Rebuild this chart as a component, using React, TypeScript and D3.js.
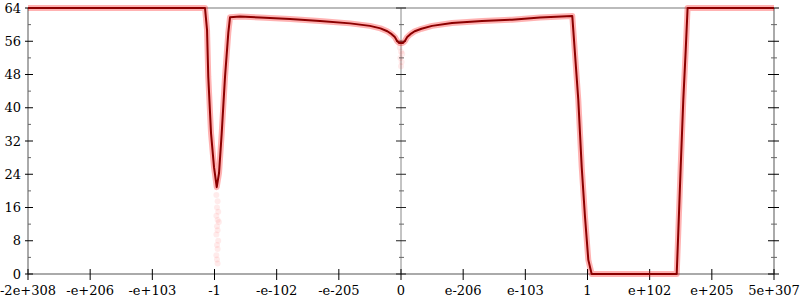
import React from "react";
import * as d3 from "d3";

// x positions are in "tick units" along the ordered float axis (-6 .. 6)
const xTickPos = [-6, -5, -4, -3, -2, -1, 0, 1, 2, 3, 4, 5, 6];
const xTickLabels = ["-2e+308", "-e+206", "-e+103", "-1", "-e-102", "-e-205", "0", "e-206", "e-103", "1", "e+102", "e+205", "5e+307"];
const yTicks = [0, 8, 16, 24, 32, 40, 48, 56, 64];
const yMinorTicks = [4, 12, 20, 28, 36, 44, 52, 60];

// error line (x position, bits of error)
const lineX = [-6, -3.153, -3.12, -3.10, -3.056, -3.008, -2.964, -2.927, -2.884, -2.831, -2.778, -2.75, -2.59, -2.268, -1.785, -1.303, -0.82, -0.499, -0.33, -0.22, -0.15, -0.10, -0.065, -0.03, 0.03, 0.065, 0.10, 0.15, 0.22, 0.33, 0.499, 0.82, 1.303, 1.785, 2.236, 2.755, 2.852, 2.907, 2.96, 3.013, 3.067, 4.435, 4.46, 4.499, 4.541, 4.58, 4.61, 6];
const lineY = [64, 64, 58.7, 47.4, 33.9, 25.7, 20.9, 24.3, 33.9, 47.4, 58.0, 61.8, 61.95, 61.7, 61.35, 60.9, 60.3, 59.7, 59.1, 58.4, 57.7, 57.0, 56.1, 55.6, 55.6, 56.1, 57.0, 57.7, 58.4, 59.0, 59.7, 60.4, 60.9, 61.2, 61.7, 62.1, 41.9, 25.7, 13.7, 3.4, 0, 0, 9.9, 25.7, 41.9, 53.9, 64, 64];

// scattered outlier samples
const scatterX = [-2.97, -2.95, -2.96, -2.94, -2.97, -2.95, -2.93, -2.96, -2.95, -2.97, -2.94, -2.96, -2.95, -2.97, -2.96, -2.95, -0.02, 0.0, 0.02, -0.01, 0.01, 0.0];
const scatterY = [19, 17.5, 16, 15, 14, 13, 12.5, 11.5, 10.5, 9.5, 8, 7, 6, 4.5, 3.5, 2.5, 54.5, 53.5, 53, 52, 51, 50];

export default function App() {
  const W = 800, H = 300;
  const x = d3.scaleLinear().domain([-6, 6]).range([28, 774]);
  const y = d3.scaleLinear().domain([0, 64]).range([274, 8]);
  const pts: [number, number][] = lineX.map((v, i) => [v, lineY[i]]);
  const line = d3.line<[number, number]>().x(d => x(d[0])).y(d => y(d[1]));
  const path = line(pts) || "";
  const font = "DejaVu Serif";
  return (
    <svg width={W} height={H} style={{ position: "absolute", left: 0, top: 0, background: "#fff" }}>
      {/* frame */}
      <line x1={x(-6)} x2={x(6)} y1={y(64)} y2={y(64)} stroke="#bbb" strokeWidth={2} />
      <line x1={x(-6)} x2={x(6)} y1={y(0)} y2={y(0)} stroke="#aaa" strokeWidth={2} />
      <line x1={x(-6)} x2={x(-6)} y1={y(0)} y2={y(64)} stroke="#aaa" strokeWidth={2} />
      <line x1={x(6)} x2={x(6)} y1={y(0)} y2={y(64)} stroke="#aaa" strokeWidth={2} />
      <line x1={x(0)} x2={x(0)} y1={y(0)} y2={y(64)} stroke="#888" strokeWidth={1} />
      {/* y ticks */}
      {yTicks.map(t => (
        <g key={"yt" + t}>
          <line x1={25} x2={33} y1={y(t)} y2={y(t)} stroke="#000" strokeWidth={1} />
          <line x1={396} x2={406} y1={y(t)} y2={y(t)} stroke="#222" strokeWidth={1} />
          <line x1={768} x2={779} y1={y(t)} y2={y(t)} stroke="#000" strokeWidth={1} />
          <text x={21} y={y(t)} dy="0.35em" textAnchor="end" fontFamily={font} fontSize={13} fill="#000">{t}</text>
        </g>
      ))}
      {yMinorTicks.map(t => (
        <g key={"ym" + t}>
          <line x1={28} x2={31} y1={y(t)} y2={y(t)} stroke="#666" strokeWidth={1} />
          <line x1={399} x2={404} y1={y(t)} y2={y(t)} stroke="#666" strokeWidth={1} />
          <line x1={771} x2={777} y1={y(t)} y2={y(t)} stroke="#666" strokeWidth={1} />
        </g>
      ))}
      {/* x ticks */}
      {xTickPos.map((p, i) => (
        <g key={"xt" + p}>
          <line x1={x(p)} x2={x(p)} y1={269} y2={280} stroke="#000" strokeWidth={1} />
          <text x={x(p)} y={295} textAnchor="middle" fontFamily={font} fontSize={13} fill="#000">{xTickLabels[i]}</text>
        </g>
      ))}
      {/* sample band */}
      <path d={path} fill="none" stroke="rgba(255,0,0,0.3)" strokeWidth={6} strokeLinejoin="round" />
      {scatterX.map((v, i) => (
        <circle key={"s" + i} cx={x(v)} cy={y(scatterY[i])} r={3} fill="rgba(255,0,0,0.08)" />
      ))}
      <path d={path} fill="none" stroke="#8b0000" strokeWidth={2} strokeLinejoin="round" />
    </svg>
  );
}
